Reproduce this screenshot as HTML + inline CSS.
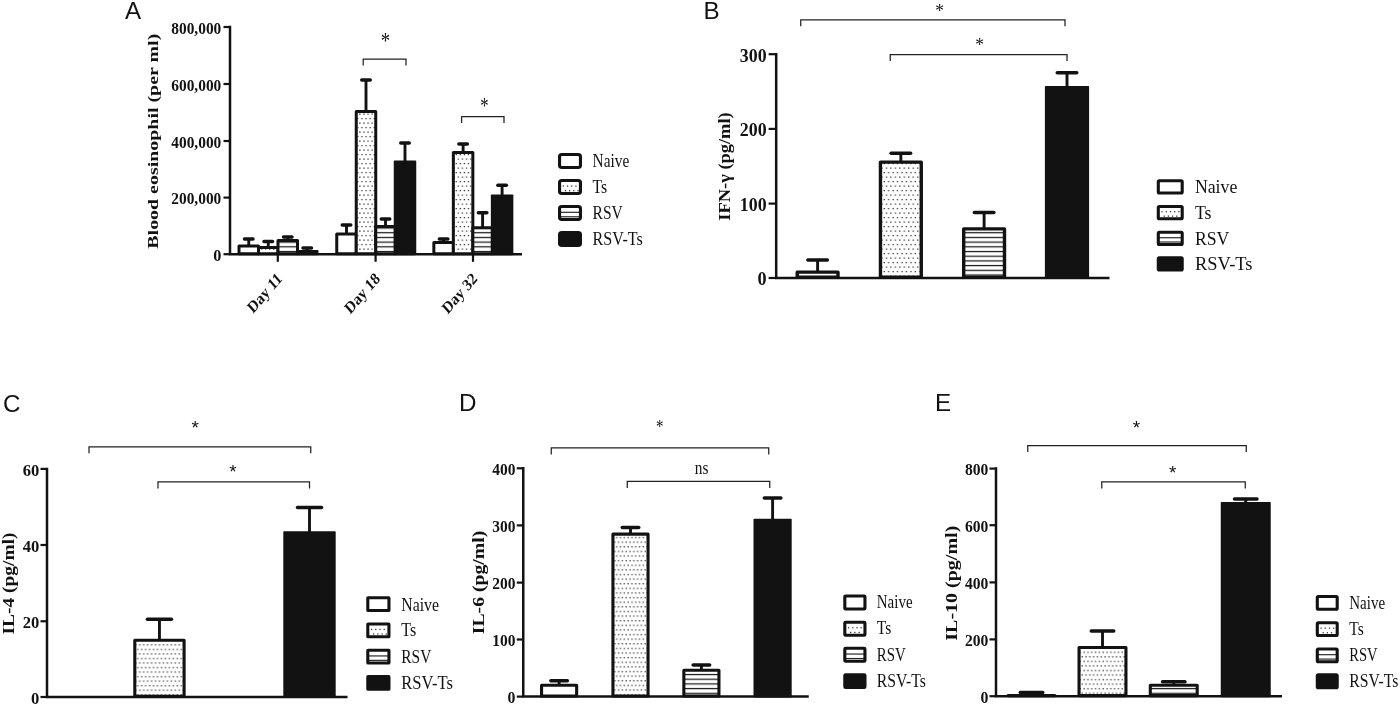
<!DOCTYPE html>
<html lang="en"><head><meta charset="utf-8"><title>Figure</title>
<style>html,body{margin:0;padding:0;background:#fff;}body{width:1400px;height:706px;overflow:hidden;}svg{display:block;}</style>
</head><body>
<svg width="1400" height="706" viewBox="0 0 1400 706">
<defs>
<pattern id="dots" x="0" y="0" width="4.1" height="9" patternUnits="userSpaceOnUse"><rect width="4.1" height="9" fill="#fff"/><rect x="0.5" y="1.0" width="1.25" height="1.25" fill="#333"/><rect x="2.55" y="5.5" width="1.25" height="1.25" fill="#333"/></pattern>
<pattern id="dotsB" x="0" y="0" width="4.46" height="9" patternUnits="userSpaceOnUse"><rect width="4.46" height="9" fill="#fff"/><rect x="0.5" y="1.0" width="1.25" height="1.25" fill="#333"/><rect x="2.73" y="5.5" width="1.25" height="1.25" fill="#333"/></pattern>
<pattern id="dotsC" x="0" y="0" width="3.96" height="9.06" patternUnits="userSpaceOnUse"><rect width="3.96" height="9.06" fill="#fff"/><rect x="0.5" y="1.0" width="1.25" height="1.25" fill="#333"/><rect x="2.48" y="5.53" width="1.25" height="1.25" fill="#333"/></pattern>
<pattern id="dotsD" x="0" y="0" width="3.8" height="9.24" patternUnits="userSpaceOnUse"><rect width="3.8" height="9.24" fill="#fff"/><rect x="0.5" y="1.0" width="1.25" height="1.25" fill="#333"/><rect x="2.4" y="5.62" width="1.25" height="1.25" fill="#333"/></pattern>
<pattern id="dotsE" x="0" y="0" width="3.82" height="9.1" patternUnits="userSpaceOnUse"><rect width="3.82" height="9.1" fill="#fff"/><rect x="0.5" y="1.0" width="1.25" height="1.25" fill="#333"/><rect x="2.41" y="5.55" width="1.25" height="1.25" fill="#333"/></pattern>
<pattern id="hl" x="0" y="0" width="8" height="4.7" patternUnits="userSpaceOnUse"><rect width="8" height="4.7" fill="#fff"/><rect x="0" y="1.8" width="8" height="1.25" fill="#1a1a1a"/></pattern>
<filter id="soft" color-interpolation-filters="sRGB" x="0" y="0" width="1400" height="706" filterUnits="userSpaceOnUse"><feGaussianBlur stdDeviation="0.38"/></filter>
</defs>
<rect width="1400" height="706" fill="#fff"/>
<g filter="url(#soft)">
<text x="125.1" y="19" font-family="'Liberation Sans', serif" font-size="24.2" font-weight="normal" text-anchor="start" fill="#121212" >A</text>
<text x="703.6" y="19" font-family="'Liberation Sans', serif" font-size="24.2" font-weight="normal" text-anchor="start" fill="#121212" >B</text>
<text x="3.1" y="411.7" font-family="'Liberation Sans', serif" font-size="24.2" font-weight="normal" text-anchor="start" fill="#121212" >C</text>
<text x="459" y="411.1" font-family="'Liberation Sans', serif" font-size="24.2" font-weight="normal" text-anchor="start" fill="#121212" >D</text>
<text x="935.1" y="411.1" font-family="'Liberation Sans', serif" font-size="24.2" font-weight="normal" text-anchor="start" fill="#121212" >E</text>
<path d="M230 25.75 V254.2 H522" fill="none" stroke="#121212" stroke-width="2.5" stroke-linejoin="miter"/>
<path d="M223.5 27 H230" stroke="#121212" stroke-width="2.2"/>
<text x="221.3" y="33.71" font-family="'Liberation Serif', serif" font-size="16.3" font-weight="bold" text-anchor="end" fill="#121212" textLength="50" lengthAdjust="spacingAndGlyphs" >800,000</text>
<path d="M223.5 84 H230" stroke="#121212" stroke-width="2.2"/>
<text x="221.3" y="90.71" font-family="'Liberation Serif', serif" font-size="16.3" font-weight="bold" text-anchor="end" fill="#121212" textLength="50" lengthAdjust="spacingAndGlyphs" >600,000</text>
<path d="M223.5 141 H230" stroke="#121212" stroke-width="2.2"/>
<text x="221.3" y="147.71" font-family="'Liberation Serif', serif" font-size="16.3" font-weight="bold" text-anchor="end" fill="#121212" textLength="50" lengthAdjust="spacingAndGlyphs" >400,000</text>
<path d="M223.5 197.6 H230" stroke="#121212" stroke-width="2.2"/>
<text x="221.3" y="204.31" font-family="'Liberation Serif', serif" font-size="16.3" font-weight="bold" text-anchor="end" fill="#121212" textLength="50" lengthAdjust="spacingAndGlyphs" >200,000</text>
<path d="M223.5 254.2 H230" stroke="#121212" stroke-width="2.2"/>
<text x="221.3" y="260.91" font-family="'Liberation Serif', serif" font-size="16.3" font-weight="bold" text-anchor="end" fill="#121212" >0</text>
<path d="M277.8 254.2 V261.8" stroke="#121212" stroke-width="2.2"/>
<path d="M375.6 254.2 V261.8" stroke="#121212" stroke-width="2.2"/>
<path d="M473 254.2 V261.8" stroke="#121212" stroke-width="2.2"/>
<text transform="translate(157.8 141.2) rotate(-90)" x="0" y="0" font-family="'Liberation Serif', serif" font-size="15.5" font-weight="bold" text-anchor="middle" fill="#121212" textLength="215" lengthAdjust="spacingAndGlyphs">Blood eosinophil (per ml)</text>
<path d="M248.75 245.5 V239" fill="none" stroke="#121212" stroke-width="2.9"/>
<path d="M244.5 239 H253" fill="none" stroke="#121212" stroke-width="3.5" stroke-linecap="round"/>
<path d="M268.25 247 V241.5" fill="none" stroke="#121212" stroke-width="2.9"/>
<path d="M264 241.5 H272.5" fill="none" stroke="#121212" stroke-width="3.5" stroke-linecap="round"/>
<path d="M287.75 240 V237" fill="none" stroke="#121212" stroke-width="2.9"/>
<path d="M283.5 237 H292" fill="none" stroke="#121212" stroke-width="3.5" stroke-linecap="round"/>
<path d="M307.25 251 V248" fill="none" stroke="#121212" stroke-width="2.9"/>
<path d="M303 248 H311.5" fill="none" stroke="#121212" stroke-width="3.5" stroke-linecap="round"/>
<rect x="239" y="246" width="19.5" height="7.65" fill="#fff" stroke="#121212" stroke-width="3" stroke-linejoin="round"/>
<rect x="258.5" y="247.5" width="19.5" height="6.15" fill="url(#dots)" stroke="#121212" stroke-width="3" stroke-linejoin="round"/>
<rect x="278" y="240.5" width="19.5" height="13.15" fill="url(#hl)" stroke="#121212" stroke-width="3" stroke-linejoin="round"/>
<rect x="296" y="250" width="22.5" height="5.15" rx="0.8" fill="#121212"/>
<path d="M346.5 233.5 V225" fill="none" stroke="#121212" stroke-width="2.9"/>
<path d="M342.25 225 H350.75" fill="none" stroke="#121212" stroke-width="3.5" stroke-linecap="round"/>
<path d="M366 111 V80" fill="none" stroke="#121212" stroke-width="2.9"/>
<path d="M361.75 80 H370.25" fill="none" stroke="#121212" stroke-width="3.5" stroke-linecap="round"/>
<path d="M385.5 226 V219" fill="none" stroke="#121212" stroke-width="2.9"/>
<path d="M381.25 219 H389.75" fill="none" stroke="#121212" stroke-width="3.5" stroke-linecap="round"/>
<path d="M405 161.6 V143" fill="none" stroke="#121212" stroke-width="2.9"/>
<path d="M400.75 143 H409.25" fill="none" stroke="#121212" stroke-width="3.5" stroke-linecap="round"/>
<rect x="336.75" y="234" width="19.5" height="19.65" fill="#fff" stroke="#121212" stroke-width="3" stroke-linejoin="round"/>
<rect x="356.25" y="111.5" width="19.5" height="142.15" fill="url(#dots)" stroke="#121212" stroke-width="3" stroke-linejoin="round"/>
<rect x="375.75" y="226.5" width="19.5" height="27.15" fill="url(#hl)" stroke="#121212" stroke-width="3" stroke-linejoin="round"/>
<rect x="393.75" y="160.6" width="22.5" height="94.55" rx="0.8" fill="#121212"/>
<path d="M443.6 241.9 V239" fill="none" stroke="#121212" stroke-width="2.9"/>
<path d="M439.35 239 H447.85" fill="none" stroke="#121212" stroke-width="3.5" stroke-linecap="round"/>
<path d="M463.1 152 V144" fill="none" stroke="#121212" stroke-width="2.9"/>
<path d="M458.85 144 H467.35" fill="none" stroke="#121212" stroke-width="3.5" stroke-linecap="round"/>
<path d="M482.6 227.25 V212.75" fill="none" stroke="#121212" stroke-width="2.9"/>
<path d="M478.35 212.75 H486.85" fill="none" stroke="#121212" stroke-width="3.5" stroke-linecap="round"/>
<path d="M502.1 195.4 V185.25" fill="none" stroke="#121212" stroke-width="2.9"/>
<path d="M497.85 185.25 H506.35" fill="none" stroke="#121212" stroke-width="3.5" stroke-linecap="round"/>
<rect x="433.85" y="242.4" width="19.5" height="11.25" fill="#fff" stroke="#121212" stroke-width="3" stroke-linejoin="round"/>
<rect x="453.35" y="152.5" width="19.5" height="101.15" fill="url(#dots)" stroke="#121212" stroke-width="3" stroke-linejoin="round"/>
<rect x="472.85" y="227.75" width="19.5" height="25.9" fill="url(#hl)" stroke="#121212" stroke-width="3" stroke-linejoin="round"/>
<rect x="490.85" y="194.4" width="22.5" height="60.75" rx="0.8" fill="#121212"/>
<path d="M363.2 65.5 V59 H406 V65.5" fill="none" stroke="#222" stroke-width="1.25"/>
<path d="M461.6 123 V116.6 H504 V123" fill="none" stroke="#222" stroke-width="1.25"/>
<text transform="translate(385.4 48.29) scale(0.8 1)" x="0" y="0" font-family="'Liberation Serif', serif" font-size="23.5" text-anchor="middle" fill="#121212">*</text>
<text transform="translate(484.5 112.9) scale(0.75 1)" x="0" y="0" font-family="'Liberation Serif', serif" font-size="22.2" text-anchor="middle" fill="#121212">*</text>
<text transform="translate(283 279.6) scale(0.875 1.005) rotate(-45)" x="0" y="0" font-family="'Liberation Serif', serif" font-size="16.6" font-weight="bold" text-anchor="end" fill="#121212">Day 11</text>
<text transform="translate(380.8 279.6) scale(0.875 1.005) rotate(-45)" x="0" y="0" font-family="'Liberation Serif', serif" font-size="16.6" font-weight="bold" text-anchor="end" fill="#121212">Day 18</text>
<text transform="translate(478.2 279.6) scale(0.875 1.005) rotate(-45)" x="0" y="0" font-family="'Liberation Serif', serif" font-size="16.6" font-weight="bold" text-anchor="end" fill="#121212">Day 32</text>
<rect x="559.55" y="154.55" width="20.9" height="12.9" rx="2.2" fill="#fff" stroke="#121212" stroke-width="3.1"/>
<text x="592.6" y="167" font-family="'Liberation Serif', serif" font-size="18" font-weight="normal" text-anchor="start" fill="#121212" textLength="36.6" lengthAdjust="spacingAndGlyphs" >Naive</text>
<rect x="559.55" y="180.55" width="20.9" height="12.9" fill="#fff"/>
<rect x="562.7" y="185.4" width="1.25" height="1.25" fill="#333"/>
<rect x="566.9" y="185.4" width="1.25" height="1.25" fill="#333"/>
<rect x="571.1" y="185.4" width="1.25" height="1.25" fill="#333"/>
<rect x="575.3" y="185.4" width="1.25" height="1.25" fill="#333"/>
<rect x="564.8" y="190.04" width="1.25" height="1.25" fill="#333"/>
<rect x="569" y="190.04" width="1.25" height="1.25" fill="#333"/>
<rect x="573.2" y="190.04" width="1.25" height="1.25" fill="#333"/>
<rect x="577.4" y="190.04" width="1.25" height="1.25" fill="#333"/>
<rect x="559.55" y="180.55" width="20.9" height="12.9" rx="2.2" fill="none" stroke="#121212" stroke-width="3.1"/>
<text x="592.6" y="193.1" font-family="'Liberation Serif', serif" font-size="18" font-weight="normal" text-anchor="start" fill="#121212" textLength="14.6" lengthAdjust="spacingAndGlyphs" >Ts</text>
<rect x="559.55" y="206.55" width="20.9" height="12.9" fill="#fff"/>
<rect x="559.55" y="211.72" width="20.9" height="1.15" fill="#222"/>
<rect x="559.55" y="216.2" width="20.9" height="1.15" fill="#222"/>
<rect x="559.55" y="206.55" width="20.9" height="12.9" rx="2.2" fill="none" stroke="#121212" stroke-width="3.1"/>
<text x="592.6" y="219.2" font-family="'Liberation Serif', serif" font-size="18" font-weight="normal" text-anchor="start" fill="#121212" textLength="30.2" lengthAdjust="spacingAndGlyphs" >RSV</text>
<rect x="559.55" y="232.55" width="20.9" height="12.9" rx="2.2" fill="#121212" stroke="#121212" stroke-width="3.1"/>
<text x="592.6" y="245.1" font-family="'Liberation Serif', serif" font-size="18" font-weight="normal" text-anchor="start" fill="#121212" textLength="50.2" lengthAdjust="spacingAndGlyphs" >RSV-Ts</text>
<path d="M776.2 52.95 V278 H1109.5" fill="none" stroke="#121212" stroke-width="2.5" stroke-linejoin="miter"/>
<path d="M768.6 54.2 H776.2" stroke="#121212" stroke-width="2.2"/>
<text x="766.6" y="61.55" font-family="'Liberation Serif', serif" font-size="18.2" font-weight="bold" text-anchor="end" fill="#121212" textLength="26.8" lengthAdjust="spacingAndGlyphs" >300</text>
<path d="M768.6 128.9 H776.2" stroke="#121212" stroke-width="2.2"/>
<text x="766.6" y="136.25" font-family="'Liberation Serif', serif" font-size="18.2" font-weight="bold" text-anchor="end" fill="#121212" textLength="26.8" lengthAdjust="spacingAndGlyphs" >200</text>
<path d="M768.6 203.6 H776.2" stroke="#121212" stroke-width="2.2"/>
<text x="766.6" y="210.95" font-family="'Liberation Serif', serif" font-size="18.2" font-weight="bold" text-anchor="end" fill="#121212" textLength="26.8" lengthAdjust="spacingAndGlyphs" >100</text>
<path d="M768.6 278 H776.2" stroke="#121212" stroke-width="2.2"/>
<text x="766.6" y="285.35" font-family="'Liberation Serif', serif" font-size="18.2" font-weight="bold" text-anchor="end" fill="#121212" >0</text>
<text transform="translate(730 166.5) rotate(-90)" x="0" y="0" font-family="'Liberation Serif', serif" font-size="17.4" font-weight="bold" text-anchor="middle" fill="#121212" textLength="108.5" lengthAdjust="spacingAndGlyphs">IFN-γ (pg/ml)</text>
<path d="M817.6 271.75 V260" fill="none" stroke="#121212" stroke-width="2.9"/>
<path d="M807.85 260 H827.35" fill="none" stroke="#121212" stroke-width="3.5" stroke-linecap="round"/>
<path d="M900.85 161.75 V153.25" fill="none" stroke="#121212" stroke-width="2.9"/>
<path d="M891.1 153.25 H910.6" fill="none" stroke="#121212" stroke-width="3.5" stroke-linecap="round"/>
<path d="M984.1 228.5 V212.5" fill="none" stroke="#121212" stroke-width="2.9"/>
<path d="M974.35 212.5 H993.85" fill="none" stroke="#121212" stroke-width="3.5" stroke-linecap="round"/>
<path d="M1067 87.25 V72.75" fill="none" stroke="#121212" stroke-width="2.9"/>
<path d="M1057.25 72.75 H1076.75" fill="none" stroke="#121212" stroke-width="3.5" stroke-linecap="round"/>
<rect x="797.2" y="272.15" width="40.8" height="5.1" fill="#fff" stroke="#121212" stroke-width="3.4" stroke-linejoin="round"/>
<rect x="880.45" y="162.15" width="40.8" height="115.1" fill="url(#dotsB)" stroke="#121212" stroke-width="3.4" stroke-linejoin="round"/>
<rect x="963.7" y="228.9" width="40.8" height="48.35" fill="url(#hl)" stroke="#121212" stroke-width="3.4" stroke-linejoin="round"/>
<rect x="1044.9" y="85.95" width="44.2" height="193" rx="0.8" fill="#121212"/>
<path d="M800.75 26.2 V19.9 H1065 V26.2" fill="none" stroke="#222" stroke-width="1.25"/>
<path d="M890.25 60.9 V54.6 H1067 V60.9" fill="none" stroke="#222" stroke-width="1.25"/>
<text transform="translate(939.7 17.01) scale(0.88 1)" x="0" y="0" font-family="'Liberation Serif', serif" font-size="19.8" text-anchor="middle" fill="#121212">*</text>
<text transform="translate(979.7 50.61) scale(0.88 1)" x="0" y="0" font-family="'Liberation Serif', serif" font-size="19.8" text-anchor="middle" fill="#121212">*</text>
<rect x="1158.3" y="180.8" width="23.9" height="12.15" rx="1" fill="#fff" stroke="#121212" stroke-width="3.1"/>
<text x="1194.9" y="193" font-family="'Liberation Serif', serif" font-size="19.5" font-weight="normal" text-anchor="start" fill="#121212" textLength="42.4" lengthAdjust="spacingAndGlyphs" >Naive</text>
<rect x="1158.3" y="206.55" width="23.9" height="12.15" fill="#fff"/>
<rect x="1161.45" y="211.1" width="1.25" height="1.25" fill="#333"/>
<rect x="1165.65" y="211.1" width="1.25" height="1.25" fill="#333"/>
<rect x="1169.85" y="211.1" width="1.25" height="1.25" fill="#333"/>
<rect x="1174.05" y="211.1" width="1.25" height="1.25" fill="#333"/>
<rect x="1178.25" y="211.1" width="1.25" height="1.25" fill="#333"/>
<rect x="1163.55" y="215.52" width="1.25" height="1.25" fill="#333"/>
<rect x="1167.75" y="215.52" width="1.25" height="1.25" fill="#333"/>
<rect x="1171.95" y="215.52" width="1.25" height="1.25" fill="#333"/>
<rect x="1176.15" y="215.52" width="1.25" height="1.25" fill="#333"/>
<rect x="1158.3" y="206.55" width="23.9" height="12.15" rx="1" fill="none" stroke="#121212" stroke-width="3.1"/>
<text x="1194.9" y="218.8" font-family="'Liberation Serif', serif" font-size="19.5" font-weight="normal" text-anchor="start" fill="#121212" textLength="16.6" lengthAdjust="spacingAndGlyphs" >Ts</text>
<rect x="1158.3" y="232.3" width="23.9" height="12.15" fill="#fff"/>
<rect x="1158.3" y="237.16" width="23.9" height="1.15" fill="#222"/>
<rect x="1158.3" y="241.43" width="23.9" height="1.15" fill="#222"/>
<rect x="1158.3" y="232.3" width="23.9" height="12.15" rx="1" fill="none" stroke="#121212" stroke-width="3.1"/>
<text x="1194.9" y="244.5" font-family="'Liberation Serif', serif" font-size="19.5" font-weight="normal" text-anchor="start" fill="#121212" textLength="34.4" lengthAdjust="spacingAndGlyphs" >RSV</text>
<rect x="1158.3" y="257.8" width="23.9" height="12.15" rx="1" fill="#121212" stroke="#121212" stroke-width="3.1"/>
<text x="1194.9" y="270.2" font-family="'Liberation Serif', serif" font-size="19.5" font-weight="normal" text-anchor="start" fill="#121212" textLength="57.6" lengthAdjust="spacingAndGlyphs" >RSV-Ts</text>
<path d="M47 467.65 V697 H347.5" fill="none" stroke="#121212" stroke-width="2.5" stroke-linejoin="miter"/>
<path d="M40.5 468.9 H47" stroke="#121212" stroke-width="2.2"/>
<text x="39.3" y="475.71" font-family="'Liberation Serif', serif" font-size="16.6" font-weight="bold" text-anchor="end" fill="#121212" >60</text>
<path d="M40.5 545 H47" stroke="#121212" stroke-width="2.2"/>
<text x="39.3" y="551.81" font-family="'Liberation Serif', serif" font-size="16.6" font-weight="bold" text-anchor="end" fill="#121212" >40</text>
<path d="M40.5 621.25 H47" stroke="#121212" stroke-width="2.2"/>
<text x="39.3" y="628.06" font-family="'Liberation Serif', serif" font-size="16.6" font-weight="bold" text-anchor="end" fill="#121212" >20</text>
<path d="M40.5 697 H47" stroke="#121212" stroke-width="2.2"/>
<text x="39.3" y="703.81" font-family="'Liberation Serif', serif" font-size="16.6" font-weight="bold" text-anchor="end" fill="#121212" >0</text>
<text transform="translate(14.4 583.5) rotate(-90)" x="0" y="0" font-family="'Liberation Serif', serif" font-size="16.2" font-weight="bold" text-anchor="middle" fill="#121212" textLength="102" lengthAdjust="spacingAndGlyphs">IL-4 (pg/ml)</text>
<path d="M159.45 639.75 V619.25" fill="none" stroke="#121212" stroke-width="2.9"/>
<path d="M147.45 619.25 H171.45" fill="none" stroke="#121212" stroke-width="3.5" stroke-linecap="round"/>
<path d="M309.5 532.25 V507.5" fill="none" stroke="#121212" stroke-width="2.9"/>
<path d="M297.5 507.5 H321.5" fill="none" stroke="#121212" stroke-width="3.5" stroke-linecap="round"/>
<rect x="134.8" y="640.3" width="49.3" height="56.1" fill="url(#dotsC)" stroke="#121212" stroke-width="3.1" stroke-linejoin="round"/>
<rect x="283.3" y="531.25" width="52.4" height="166.7" rx="0.8" fill="#121212"/>
<path d="M89 453.2 V446.9 H310.75 V453.2" fill="none" stroke="#222" stroke-width="1.25"/>
<path d="M158 488.4 V481.9 H309.5 V488.4" fill="none" stroke="#222" stroke-width="1.25"/>
<text transform="translate(195.3 433.93) scale(1 1)" x="0" y="0" font-family="'Liberation Sans', sans-serif" font-size="19" text-anchor="middle" fill="#121212">*</text>
<text transform="translate(233 478.33) scale(1 1)" x="0" y="0" font-family="'Liberation Sans', sans-serif" font-size="19" text-anchor="middle" fill="#121212">*</text>
<rect x="367.8" y="597.8" width="21.15" height="12.65" rx="0.3" fill="#fff" stroke="#121212" stroke-width="3.1"/>
<text x="401.3" y="610.5" font-family="'Liberation Serif', serif" font-size="18.6" font-weight="normal" text-anchor="start" fill="#121212" textLength="37.75" lengthAdjust="spacingAndGlyphs" >Naive</text>
<rect x="367.8" y="624.05" width="21.15" height="12.65" fill="#fff"/>
<rect x="370.95" y="628.8" width="1.25" height="1.25" fill="#333"/>
<rect x="375.15" y="628.8" width="1.25" height="1.25" fill="#333"/>
<rect x="379.35" y="628.8" width="1.25" height="1.25" fill="#333"/>
<rect x="383.55" y="628.8" width="1.25" height="1.25" fill="#333"/>
<rect x="373.05" y="633.37" width="1.25" height="1.25" fill="#333"/>
<rect x="377.25" y="633.37" width="1.25" height="1.25" fill="#333"/>
<rect x="381.45" y="633.37" width="1.25" height="1.25" fill="#333"/>
<rect x="385.65" y="633.37" width="1.25" height="1.25" fill="#333"/>
<rect x="367.8" y="624.05" width="21.15" height="12.65" rx="0.3" fill="none" stroke="#121212" stroke-width="3.1"/>
<text x="401.3" y="636.3" font-family="'Liberation Serif', serif" font-size="18.6" font-weight="normal" text-anchor="start" fill="#121212" textLength="15" lengthAdjust="spacingAndGlyphs" >Ts</text>
<rect x="367.8" y="650.3" width="21.15" height="12.65" fill="#fff"/>
<rect x="367.8" y="655.37" width="21.15" height="1.15" fill="#222"/>
<rect x="367.8" y="659.77" width="21.15" height="1.15" fill="#222"/>
<rect x="367.8" y="650.3" width="21.15" height="12.65" rx="0.3" fill="none" stroke="#121212" stroke-width="3.1"/>
<text x="401.3" y="662.5" font-family="'Liberation Serif', serif" font-size="18.6" font-weight="normal" text-anchor="start" fill="#121212" textLength="30" lengthAdjust="spacingAndGlyphs" >RSV</text>
<rect x="367.8" y="676.55" width="21.15" height="12.65" rx="0.3" fill="#121212" stroke="#121212" stroke-width="3.1"/>
<text x="401.3" y="688.75" font-family="'Liberation Serif', serif" font-size="18.6" font-weight="normal" text-anchor="start" fill="#121212" textLength="51.75" lengthAdjust="spacingAndGlyphs" >RSV-Ts</text>
<path d="M523.25 467.05 V696.6 H808.75" fill="none" stroke="#121212" stroke-width="2.5" stroke-linejoin="miter"/>
<path d="M516.75 468.3 H523.25" stroke="#121212" stroke-width="2.2"/>
<text x="515.45" y="474.84" font-family="'Liberation Serif', serif" font-size="15.8" font-weight="bold" text-anchor="end" fill="#121212" textLength="23.2" lengthAdjust="spacingAndGlyphs" >400</text>
<path d="M516.75 525.4 H523.25" stroke="#121212" stroke-width="2.2"/>
<text x="515.45" y="531.94" font-family="'Liberation Serif', serif" font-size="15.8" font-weight="bold" text-anchor="end" fill="#121212" textLength="23.2" lengthAdjust="spacingAndGlyphs" >300</text>
<path d="M516.75 582.6 H523.25" stroke="#121212" stroke-width="2.2"/>
<text x="515.45" y="589.14" font-family="'Liberation Serif', serif" font-size="15.8" font-weight="bold" text-anchor="end" fill="#121212" textLength="23.2" lengthAdjust="spacingAndGlyphs" >200</text>
<path d="M516.75 639.5 H523.25" stroke="#121212" stroke-width="2.2"/>
<text x="515.45" y="646.04" font-family="'Liberation Serif', serif" font-size="15.8" font-weight="bold" text-anchor="end" fill="#121212" textLength="23.2" lengthAdjust="spacingAndGlyphs" >100</text>
<path d="M516.75 696.6 H523.25" stroke="#121212" stroke-width="2.2"/>
<text x="515.45" y="703.14" font-family="'Liberation Serif', serif" font-size="15.8" font-weight="bold" text-anchor="end" fill="#121212" >0</text>
<text transform="translate(484.3 582.5) rotate(-90)" x="0" y="0" font-family="'Liberation Serif', serif" font-size="15.8" font-weight="bold" text-anchor="middle" fill="#121212" textLength="103.5" lengthAdjust="spacingAndGlyphs">IL-6 (pg/ml)</text>
<path d="M559.1 684.75 V680.75" fill="none" stroke="#121212" stroke-width="2.9"/>
<path d="M550.85 680.75 H567.35" fill="none" stroke="#121212" stroke-width="3.5" stroke-linecap="round"/>
<path d="M630.5 533.6 V527.5" fill="none" stroke="#121212" stroke-width="2.9"/>
<path d="M622.25 527.5 H638.75" fill="none" stroke="#121212" stroke-width="3.5" stroke-linecap="round"/>
<path d="M701.4 669.75 V665" fill="none" stroke="#121212" stroke-width="2.9"/>
<path d="M693.15 665 H709.65" fill="none" stroke="#121212" stroke-width="3.5" stroke-linecap="round"/>
<path d="M772.6 519.75 V498" fill="none" stroke="#121212" stroke-width="2.9"/>
<path d="M764.35 498 H780.85" fill="none" stroke="#121212" stroke-width="3.5" stroke-linecap="round"/>
<rect x="541.55" y="685.3" width="35.1" height="10.7" fill="#fff" stroke="#121212" stroke-width="3.1" stroke-linejoin="round"/>
<rect x="612.95" y="534.15" width="35.1" height="161.85" fill="url(#dotsD)" stroke="#121212" stroke-width="3.1" stroke-linejoin="round"/>
<rect x="683.85" y="670.3" width="35.1" height="25.7" fill="url(#hl)" stroke="#121212" stroke-width="3.1" stroke-linejoin="round"/>
<rect x="753.5" y="518.75" width="38.2" height="178.8" rx="0.8" fill="#121212"/>
<path d="M551.25 454.4 V447.9 H768.75 V454.4" fill="none" stroke="#222" stroke-width="1.25"/>
<path d="M627.25 487.9 V481.4 H769.75 V487.9" fill="none" stroke="#222" stroke-width="1.25"/>
<text transform="translate(659.7 432.51) scale(0.75 1)" x="0" y="0" font-family="'Liberation Serif', serif" font-size="19.8" text-anchor="middle" fill="#121212">*</text>
<text x="701.6" y="474.1" font-family="'Liberation Serif', serif" font-size="19.5" font-weight="normal" text-anchor="middle" fill="#121212" textLength="13.6" lengthAdjust="spacingAndGlyphs" >ns</text>
<rect x="844.8" y="596.05" width="20.15" height="12.9" rx="0.8" fill="#fff" stroke="#121212" stroke-width="3.1"/>
<text x="876.8" y="608.3" font-family="'Liberation Serif', serif" font-size="18.6" font-weight="normal" text-anchor="start" fill="#121212" textLength="35.75" lengthAdjust="spacingAndGlyphs" >Naive</text>
<rect x="844.8" y="622.3" width="20.15" height="12.9" fill="#fff"/>
<rect x="847.95" y="627.15" width="1.25" height="1.25" fill="#333"/>
<rect x="852.15" y="627.15" width="1.25" height="1.25" fill="#333"/>
<rect x="856.35" y="627.15" width="1.25" height="1.25" fill="#333"/>
<rect x="860.55" y="627.15" width="1.25" height="1.25" fill="#333"/>
<rect x="850.05" y="631.79" width="1.25" height="1.25" fill="#333"/>
<rect x="854.25" y="631.79" width="1.25" height="1.25" fill="#333"/>
<rect x="858.45" y="631.79" width="1.25" height="1.25" fill="#333"/>
<rect x="844.8" y="622.3" width="20.15" height="12.9" rx="0.8" fill="none" stroke="#121212" stroke-width="3.1"/>
<text x="876.8" y="634.3" font-family="'Liberation Serif', serif" font-size="18.6" font-weight="normal" text-anchor="start" fill="#121212" textLength="14.4" lengthAdjust="spacingAndGlyphs" >Ts</text>
<rect x="844.8" y="648.3" width="20.15" height="12.9" fill="#fff"/>
<rect x="844.8" y="653.47" width="20.15" height="1.15" fill="#222"/>
<rect x="844.8" y="657.95" width="20.15" height="1.15" fill="#222"/>
<rect x="844.8" y="648.3" width="20.15" height="12.9" rx="0.8" fill="none" stroke="#121212" stroke-width="3.1"/>
<text x="876.8" y="660.5" font-family="'Liberation Serif', serif" font-size="18.6" font-weight="normal" text-anchor="start" fill="#121212" textLength="29" lengthAdjust="spacingAndGlyphs" >RSV</text>
<rect x="844.8" y="674.8" width="20.15" height="12.65" rx="0.8" fill="#121212" stroke="#121212" stroke-width="3.1"/>
<text x="876.8" y="686.75" font-family="'Liberation Serif', serif" font-size="18.6" font-weight="normal" text-anchor="start" fill="#121212" textLength="49" lengthAdjust="spacingAndGlyphs" >RSV-Ts</text>
<path d="M996 467.35 V696.2 H1282" fill="none" stroke="#121212" stroke-width="2.5" stroke-linejoin="miter"/>
<path d="M989.5 468.6 H996" stroke="#121212" stroke-width="2.2"/>
<text x="988.3" y="475.14" font-family="'Liberation Serif', serif" font-size="15.8" font-weight="bold" text-anchor="end" fill="#121212" textLength="23.4" lengthAdjust="spacingAndGlyphs" >800</text>
<path d="M989.5 525.2 H996" stroke="#121212" stroke-width="2.2"/>
<text x="988.3" y="531.74" font-family="'Liberation Serif', serif" font-size="15.8" font-weight="bold" text-anchor="end" fill="#121212" textLength="23.4" lengthAdjust="spacingAndGlyphs" >600</text>
<path d="M989.5 582.4 H996" stroke="#121212" stroke-width="2.2"/>
<text x="988.3" y="588.94" font-family="'Liberation Serif', serif" font-size="15.8" font-weight="bold" text-anchor="end" fill="#121212" textLength="23.4" lengthAdjust="spacingAndGlyphs" >400</text>
<path d="M989.5 639.4 H996" stroke="#121212" stroke-width="2.2"/>
<text x="988.3" y="645.94" font-family="'Liberation Serif', serif" font-size="15.8" font-weight="bold" text-anchor="end" fill="#121212" textLength="23.4" lengthAdjust="spacingAndGlyphs" >200</text>
<path d="M989.5 696.2 H996" stroke="#121212" stroke-width="2.2"/>
<text x="988.3" y="702.74" font-family="'Liberation Serif', serif" font-size="15.8" font-weight="bold" text-anchor="end" fill="#121212" >0</text>
<text transform="translate(957 583.2) rotate(-90)" x="0" y="0" font-family="'Liberation Serif', serif" font-size="15.8" font-weight="bold" text-anchor="middle" fill="#121212" textLength="115" lengthAdjust="spacingAndGlyphs">IL-10 (pg/ml)</text>
<path d="M1031.5 694.9 V692.6" fill="none" stroke="#121212" stroke-width="2.9"/>
<path d="M1020.25 692.6 H1042.75" fill="none" stroke="#121212" stroke-width="3.5" stroke-linecap="round"/>
<path d="M1102.5 646.9 V631" fill="none" stroke="#121212" stroke-width="2.9"/>
<path d="M1091.25 631 H1113.75" fill="none" stroke="#121212" stroke-width="3.5" stroke-linecap="round"/>
<path d="M1173.75 684.7 V681.75" fill="none" stroke="#121212" stroke-width="2.9"/>
<path d="M1162.5 681.75 H1185" fill="none" stroke="#121212" stroke-width="3.5" stroke-linecap="round"/>
<path d="M1245.75 503 V499" fill="none" stroke="#121212" stroke-width="2.9"/>
<path d="M1234.5 499 H1257" fill="none" stroke="#121212" stroke-width="3.5" stroke-linecap="round"/>
<rect x="1008.05" y="695.45" width="46.9" height="0.15" fill="#fff" stroke="#121212" stroke-width="3.1" stroke-linejoin="round"/>
<rect x="1079.05" y="647.45" width="46.9" height="48.15" fill="url(#dotsE)" stroke="#121212" stroke-width="3.1" stroke-linejoin="round"/>
<rect x="1150.3" y="685.25" width="46.9" height="10.35" fill="url(#hl)" stroke="#121212" stroke-width="3.1" stroke-linejoin="round"/>
<rect x="1220.75" y="502" width="50" height="195.15" rx="0.8" fill="#121212"/>
<path d="M1027.75 451.9 V445.6 H1246.25 V451.9" fill="none" stroke="#222" stroke-width="1.25"/>
<path d="M1101.75 488.4 V481.9 H1245.25 V488.4" fill="none" stroke="#222" stroke-width="1.25"/>
<text transform="translate(1136.5 434.03) scale(1 1)" x="0" y="0" font-family="'Liberation Sans', sans-serif" font-size="19" text-anchor="middle" fill="#121212">*</text>
<text transform="translate(1172.8 479.33) scale(1 1)" x="0" y="0" font-family="'Liberation Sans', sans-serif" font-size="19" text-anchor="middle" fill="#121212">*</text>
<rect x="1317.3" y="596.55" width="19.9" height="12.65" rx="1" fill="#fff" stroke="#121212" stroke-width="3.1"/>
<text x="1349.3" y="608.75" font-family="'Liberation Serif', serif" font-size="18.6" font-weight="normal" text-anchor="start" fill="#121212" textLength="35.75" lengthAdjust="spacingAndGlyphs" >Naive</text>
<rect x="1317.3" y="622.8" width="19.9" height="12.65" fill="#fff"/>
<rect x="1320.45" y="627.55" width="1.25" height="1.25" fill="#333"/>
<rect x="1324.65" y="627.55" width="1.25" height="1.25" fill="#333"/>
<rect x="1328.85" y="627.55" width="1.25" height="1.25" fill="#333"/>
<rect x="1333.05" y="627.55" width="1.25" height="1.25" fill="#333"/>
<rect x="1322.55" y="632.12" width="1.25" height="1.25" fill="#333"/>
<rect x="1326.75" y="632.12" width="1.25" height="1.25" fill="#333"/>
<rect x="1330.95" y="632.12" width="1.25" height="1.25" fill="#333"/>
<rect x="1317.3" y="622.8" width="19.9" height="12.65" rx="1" fill="none" stroke="#121212" stroke-width="3.1"/>
<text x="1349.3" y="635" font-family="'Liberation Serif', serif" font-size="18.6" font-weight="normal" text-anchor="start" fill="#121212" textLength="14.4" lengthAdjust="spacingAndGlyphs" >Ts</text>
<rect x="1317.3" y="649.05" width="19.9" height="12.65" fill="#fff"/>
<rect x="1317.3" y="654.12" width="19.9" height="1.15" fill="#222"/>
<rect x="1317.3" y="658.52" width="19.9" height="1.15" fill="#222"/>
<rect x="1317.3" y="649.05" width="19.9" height="12.65" rx="1" fill="none" stroke="#121212" stroke-width="3.1"/>
<text x="1349.3" y="660.75" font-family="'Liberation Serif', serif" font-size="18.6" font-weight="normal" text-anchor="start" fill="#121212" textLength="28.3" lengthAdjust="spacingAndGlyphs" >RSV</text>
<rect x="1317.3" y="674.8" width="19.9" height="12.9" rx="1" fill="#121212" stroke="#121212" stroke-width="3.1"/>
<text x="1349.3" y="687" font-family="'Liberation Serif', serif" font-size="18.6" font-weight="normal" text-anchor="start" fill="#121212" textLength="49" lengthAdjust="spacingAndGlyphs" >RSV-Ts</text>
</g>
</svg>
</body></html>
